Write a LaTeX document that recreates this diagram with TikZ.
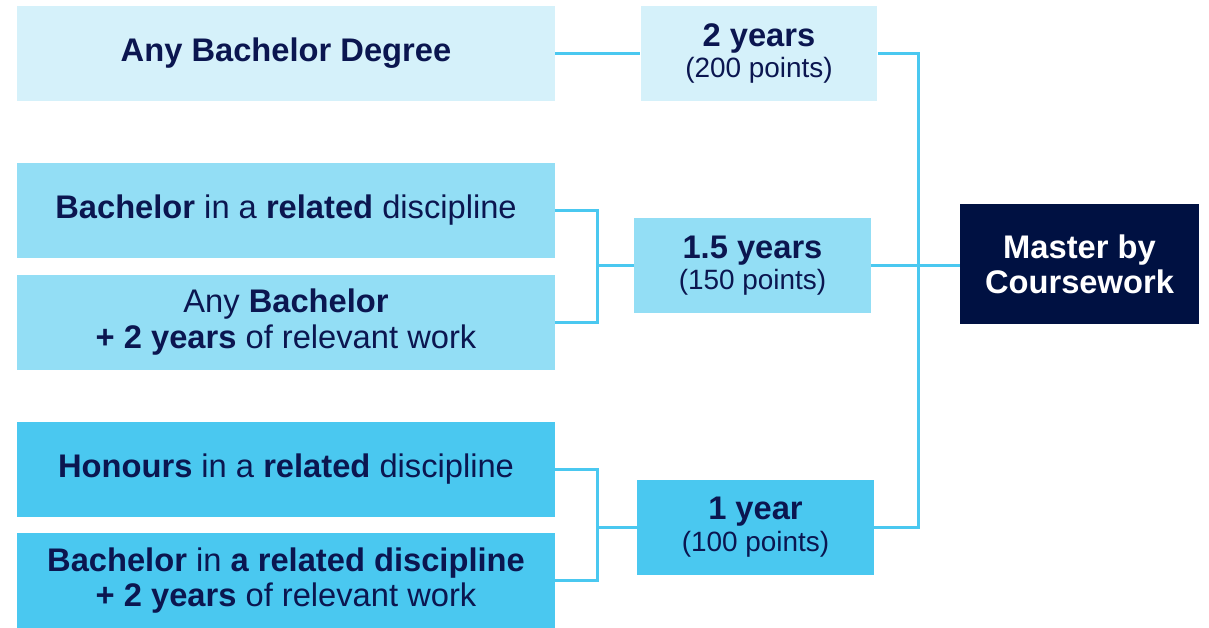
\documentclass[tikz,border=0pt]{standalone}
\usepackage{fontspec}
\setmainfont{Liberation Sans}
\definecolor{paleblue}{HTML}{D5F1FA}
\definecolor{midblue}{HTML}{93DEF5}
\definecolor{strongblue}{HTML}{4AC8F0}
\definecolor{navy}{HTML}{001142}
\definecolor{inktext}{HTML}{0B1650}
\newcommand{\pts}[1]{{\fontsize{15.9}{17}\selectfont #1}}
\begin{document}
\begin{tikzpicture}[x=0.02cm, y=-0.02cm]
\tikzstyle{box} = [rectangle, inner sep = 0pt, align = center, text = inktext, font = \fontsize{18.6}{20}\selectfont] % common box
\tikzstyle{entry} = [box, minimum width = 10.76cm, minimum height = 1.9cm] % entry requirement on the left
\tikzstyle{span} = [box, minimum width = 4.74cm, minimum height = 1.9cm] % study length in the middle
\tikzstyle{link} = [line width = 1.7pt, color = strongblue] % connector
\useasboundingbox (0,0) rectangle (1209,627); % fix the page
\node(anydeg)[entry, fill = paleblue] at (286,53.5){\textbf{Any Bachelor Degree}}; % top row
\node(two)[span, fill = paleblue] at (759,53.5){\textbf{2 years}\\[-2pt]\pts{(200 points)}};
\node(relbach)[entry, fill = midblue] at (286,210.5){\textbf{Bachelor} in a \textbf{related} discipline}; % middle rows
\node(anybach)[entry, fill = midblue] at (286,322){Any \textbf{Bachelor}\\\textbf{+ 2 years} of relevant work};
\node(onefive)[span, fill = midblue] at (752.5,265.5){\textbf{1.5 years}\\[-2pt]\pts{(150 points)}};
\node(honours)[entry, fill = strongblue] at (286,469.5){\textbf{Honours} in a \textbf{related} discipline}; % bottom rows
\node(relwork)[entry, fill = strongblue] at (286,580.5){\textbf{Bachelor} in \textbf{a related discipline}\\\textbf{+ 2 years} of relevant work};
\node(oneyear)[span, fill = strongblue] at (755.5,527){\textbf{1 year}\\[-2pt]\pts{(100 points)}};
\node(master)[box, fill = navy, text = white, minimum width = 4.78cm, minimum height = 2.4cm] at (1079.5,264){\textbf{Master by}\\\textbf{Coursework}}; % target
\coordinate(jmid) at (597,265.5); % joins of the left pairs
\coordinate(jlow) at (597,527);
\coordinate(trunk) at (918,265.5); % vertical line to the target
% connect everything
\draw[link](anydeg.east)--(two.west);
\draw[link](relbach.east)-|(jmid)|-(anybach.east);
\draw[link](jmid)--(onefive.west);
\draw[link](honours.east)-|(jlow)|-(relwork.east);
\draw[link](jlow)--(oneyear.west);
\draw[link](two.east)-|(trunk)|-(oneyear.east);
\draw[link](onefive.east)--(onefive.east-|master.west);
\end{tikzpicture}
\end{document}
